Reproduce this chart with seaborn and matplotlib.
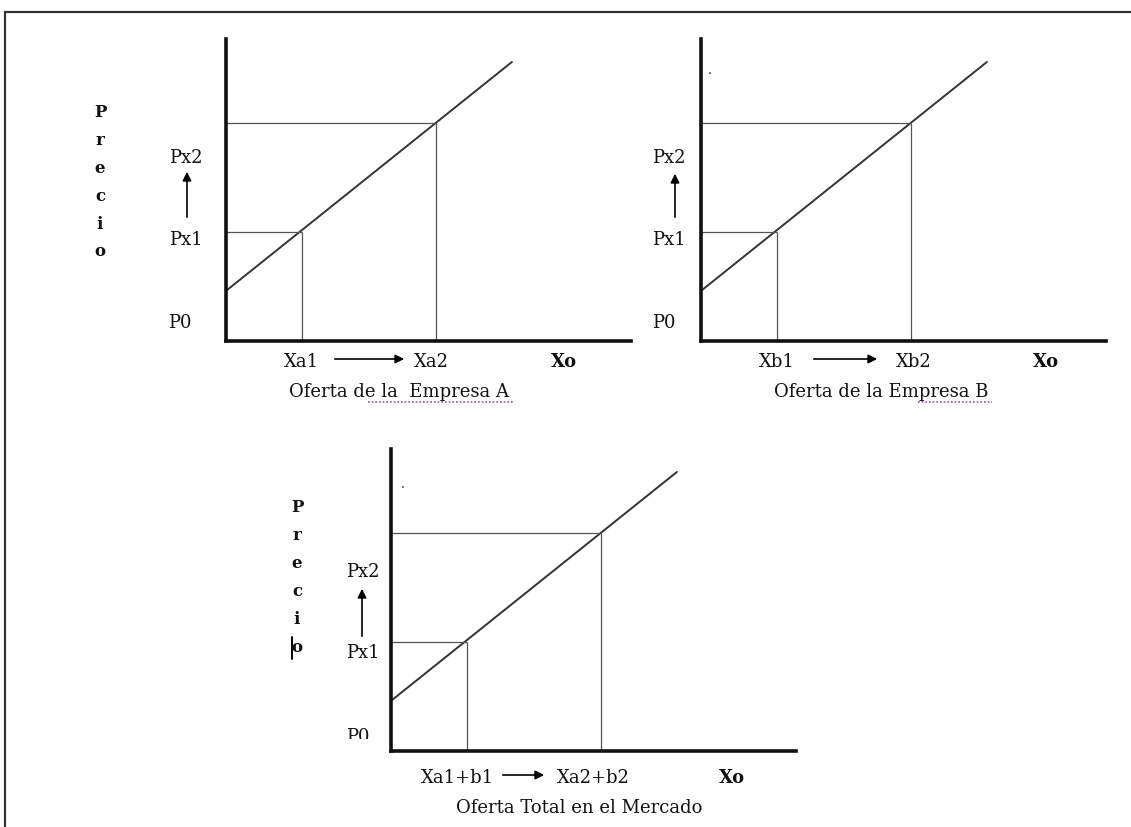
import matplotlib
matplotlib.use("Agg")
import matplotlib.pyplot as plt
import seaborn as sns
from matplotlib.transforms import Bbox, TransformedBbox

# supply curve (same shape in the three panels), axis units 0-100
quantity = [0, 70.6]
price = [16.6, 92.4]
# the two equilibrium points marked with guide lines
q_marks = [18.8, 51.9]
p_marks = [36.1, 72.2]

price_labels = ["Px2", "Px1", "P0"]
x_labels_a = ["Xa1", "Xa2"]
x_labels_b = ["Xb1", "Xb2"]
x_labels_c = ["Xa1+b1", "Xa2+b2"]
titles = ["Oferta de la  Empresa A", "Oferta de la Empresa B", "Oferta Total en el Mercado"]
axis_word = "Precio"
x_name = "Xo"

W, H = 1131, 828

sns.set_theme(style="white")
plt.rcParams["font.family"] = ["DejaVu Serif"]

fig = plt.figure(figsize=(W / 100, H / 100), dpi=100)


def fx(x):
    return x / W


def fy(y):
    return 1 - y / H


def put(x, y, s, **kw):
    kw.setdefault("fontsize", 13)
    kw.setdefault("ha", "center")
    kw.setdefault("va", "center")
    return fig.text(fx(x), fy(y), s, color="#111111", **kw)


def arrow(x0, y0, x1, y1):
    fig.add_artist(matplotlib.patches.FancyArrowPatch(
        (fx(x0), fy(y0)), (fx(x1), fy(y1)), transform=fig.transFigure,
        arrowstyle="-|>", mutation_scale=13, lw=1.2, color="black"))


# page frame
fig.add_artist(plt.Line2D([fx(5), fx(5)], [fy(13), 0], transform=fig.transFigure, color="#333333", lw=1.6))
fig.add_artist(plt.Line2D([fx(5), 1], [fy(13), fy(13)], transform=fig.transFigure, color="#333333", lw=1.6))

panels = [
    dict(origin=(226, 342), xlab=x_labels_a, title=titles[0], py=(-40, -184, -102, -46, -19), parrow=(-39, -121, -172),
         xrow=20, xpos=(75, 205, 338), xarrow=(106, 181), trow=50, tx=173, word=(-126, -229, 27.8),
         underline=(142, 288)),
    dict(origin=(701, 342), xlab=x_labels_b, title=titles[1], py=(-32, -184, -102, -37, -19), parrow=(-26, -121, -170),
         xrow=20, xpos=(76, 213, 345), xarrow=(110, 179), trow=50, tx=180, word=None,
         underline=(217, 291)),
    dict(origin=(391, 752), xlab=x_labels_c, title=titles[2], py=(-28, -180, -99, -33, -15), parrow=(-29, -112, -165),
         xrow=26, xpos=(66, 202, 341), xarrow=(109, 156), trow=56, tx=188, word=(-94, -244, 28),
         underline=None),
]

for i, pn in enumerate(panels):
    ox, oy = pn["origin"]
    ax = fig.add_axes([fx(ox), fy(oy), 405 / W, 302 / H])
    ax.set_xlim(0, 100)
    ax.set_ylim(0, 100)
    ax.set_facecolor("none")
    sns.lineplot(x=quantity, y=price, ax=ax, color="#333333", lw=1.4)
    ax.hlines(p_marks, 0, q_marks, color="#555555", lw=0.9)
    ax.vlines(q_marks, 0, p_marks, color="#555555", lw=0.9)
    ax.set_xticks([])
    ax.set_yticks([])
    for side in ["top", "right"]:
        ax.spines[side].set_visible(False)
    ax.spines["left"].set_linewidth(2.6)
    ax.spines["bottom"].set_linewidth(2.6)
    ax.spines["left"].set_color("#111111")
    ax.spines["bottom"].set_color("#111111")

    # price labels
    lx, y2, y1, l0x, y0 = pn["py"]
    put(ox + lx, oy + y2, price_labels[0])
    put(ox + lx, oy + y1, price_labels[1])
    t0 = put(ox + l0x, oy + y0, price_labels[2])
    if i == 2:
        # P0 cut off at the bottom in the original
        t0.set_clip_box(TransformedBbox(Bbox.from_extents(0, fy(740), 1, 1), fig.transFigure))
        t0.set_clip_on(True)
    ax_x, a0, a1 = pn["parrow"]
    arrow(ox + ax_x, oy + a0, ox + ax_x, oy + a1)

    # quantity labels
    x1, x2, xo = pn["xpos"]
    put(ox + x1, oy + pn["xrow"], pn["xlab"][0])
    put(ox + x2, oy + pn["xrow"], pn["xlab"][1])
    put(ox + xo, oy + pn["xrow"], x_name, fontweight="bold")
    arrow(ox + pn["xarrow"][0], oy + pn["xrow"] - 2, ox + pn["xarrow"][1], oy + pn["xrow"] - 2)
    put(ox + pn["tx"], oy + pn["trow"], pn["title"])
    if pn["underline"] is not None:
        u0, u1 = pn["underline"]
        fig.add_artist(plt.Line2D([fx(ox + u0), fx(ox + u1)], [fy(oy + pn["trow"] + 11)] * 2,
                                  transform=fig.transFigure, color="#a050b0", lw=1.2, ls=(0, (1, 1.2))))

    # vertical "Precio"
    if pn["word"] is not None:
        wx, wy, step = pn["word"]
        for k, ch in enumerate(axis_word):
            put(ox + wx, oy + wy + k * step, ch, fontweight="bold", fontsize=12)

# stray marks of the original drawing
put(710, 70, ".", fontsize=9)
put(403, 485, ".", fontsize=9)
fig.add_artist(plt.Line2D([fx(292), fx(292)], [fy(638), fy(660)], transform=fig.transFigure, color="black", lw=1.4))

fig.savefig("out.png", dpi=100)
